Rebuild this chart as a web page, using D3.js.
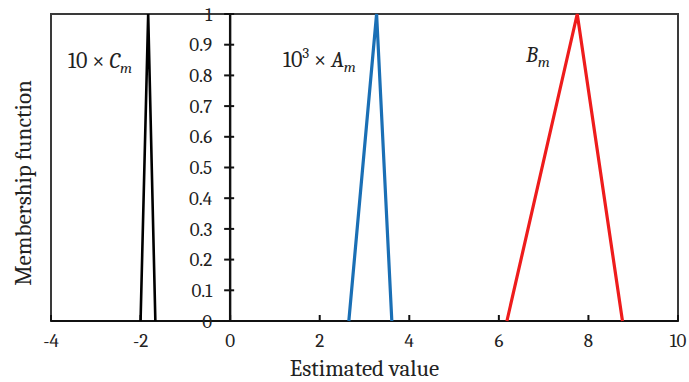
<!DOCTYPE html>
<html>
<head>
<meta charset="utf-8">
<script src="https://cdn.jsdelivr.net/npm/d3@7"></script>
<style>
  body { margin: 0; background: #fff; }
  svg { display: block; }
</style>
</head>
<body>
<svg width="689" height="382"></svg>
<script>
// values
const xTicks = [-4, -2, 0, 2, 4, 6, 8, 10];
const yTicks = [0, 0.1, 0.2, 0.3, 0.4, 0.5, 0.6, 0.7, 0.8, 0.9, 1];
const membership = [0, 1, 0];
const cValues = [-2.0, -1.83, -1.67];   // 10 x C_m
const aValues = [2.65, 3.27, 3.61];     // 10^3 x A_m
const bValues = [6.18, 7.75, 8.76];     // B_m

const series = [
  { name: "C", xs: cValues, color: "#000000" },
  { name: "A", xs: aValues, color: "#1a6fb5" },
  { name: "B", xs: bValues, color: "#ee1c1c" }
];

const font = "Cambria, 'Liberation Serif', 'DejaVu Serif', serif";

const svg = d3.select("svg");
const pLeft = 51, pRight = 678, pTop = 14, pBottom = 321;

const x = d3.scaleLinear().domain([-4, 10]).range([pLeft, pRight]);
const y = d3.scaleLinear().domain([0, 1]).range([pBottom, pTop]);

// frame
svg.append("rect")
  .attr("x", pLeft).attr("y", pTop)
  .attr("width", pRight - pLeft).attr("height", pBottom - pTop)
  .attr("fill", "none").attr("stroke", "#3a3a3a").attr("stroke-width", 2);

// x axis (ticks pointing up, labels below)
svg.append("line")
  .attr("x1", pLeft).attr("x2", pRight).attr("y1", pBottom).attr("y2", pBottom)
  .attr("stroke", "#111").attr("stroke-width", 2.2);

svg.append("g").selectAll("line").data(xTicks).join("line")
  .attr("x1", d => x(d)).attr("x2", d => x(d))
  .attr("y1", pBottom).attr("y2", pBottom - 6)
  .attr("stroke", "#111").attr("stroke-width", 2);

svg.append("g").selectAll("text").data(xTicks).join("text")
  .attr("x", d => x(d)).attr("y", pBottom + 26)
  .attr("text-anchor", "middle")
  .attr("font-family", font).attr("font-size", 19).attr("fill", "#222")
  .text(d => d);

// y axis at x = 0
svg.append("line")
  .attr("x1", x(0)).attr("x2", x(0)).attr("y1", pBottom).attr("y2", pTop)
  .attr("stroke", "#111").attr("stroke-width", 2.4);

svg.append("g").selectAll("line").data(yTicks).join("line")
  .attr("x1", x(0) - 6).attr("x2", x(0) + 4)
  .attr("y1", d => y(d)).attr("y2", d => y(d))
  .attr("stroke", "#111").attr("stroke-width", 2);

svg.append("g").selectAll("text").data(yTicks).join("text")
  .attr("x", x(0) - 18).attr("y", d => y(d))
  .attr("dy", "0.35em")
  .attr("text-anchor", "end")
  .attr("font-family", font).attr("font-size", 19).attr("fill", "#222")
  .text(d => d3.format("~g")(d));

// membership triangles
const line = d3.line().x(d => x(d[0])).y(d => y(d[1]));
svg.append("g").attr("fill", "none").attr("stroke-linejoin", "miter")
  .selectAll("path").data(series).join("path")
  .attr("d", s => line(s.xs.map((v, i) => [v, membership[i]])))
  .attr("stroke", s => s.color)
  .attr("stroke-width", s => s.name == "C" ? 2.6 : 3.2);

// series labels
function label(px, py, parts) {
  const t = svg.append("text").attr("x", px).attr("y", py)
    .attr("font-family", font).attr("font-size", 22).attr("fill", "#222");
  parts.forEach(p => {
    const s = t.append("tspan").text(p.t);
    if (p.it) s.attr("font-style", "italic");
    if (p.dy) s.attr("dy", p.dy);
    if (p.fs) s.attr("font-size", p.fs);
  });
}
label(68, 68, [{ t: "10 × " }, { t: "C", it: true }, { t: "m", it: true, dy: 5, fs: 15 }]);
label(283, 67, [{ t: "10" }, { t: "3", dy: -9, fs: 15 }, { t: " × ", dy: 9 }, { t: "A", it: true }, { t: "m", it: true, dy: 5, fs: 15 }]);
label(526, 62, [{ t: "B", it: true }, { t: "m", it: true, dy: 5, fs: 15 }]);

// axis titles
svg.append("text")
  .attr("x", (pLeft + pRight) / 2).attr("y", 376)
  .attr("text-anchor", "middle")
  .attr("font-family", font).attr("font-size", 23).attr("fill", "#222")
  .text("Estimated value");

svg.append("text")
  .attr("transform", "translate(31,183) rotate(-90)")
  .attr("text-anchor", "middle")
  .attr("font-family", font).attr("font-size", 23).attr("fill", "#222")
  .text("Membership function");
</script>
</body>
</html>
